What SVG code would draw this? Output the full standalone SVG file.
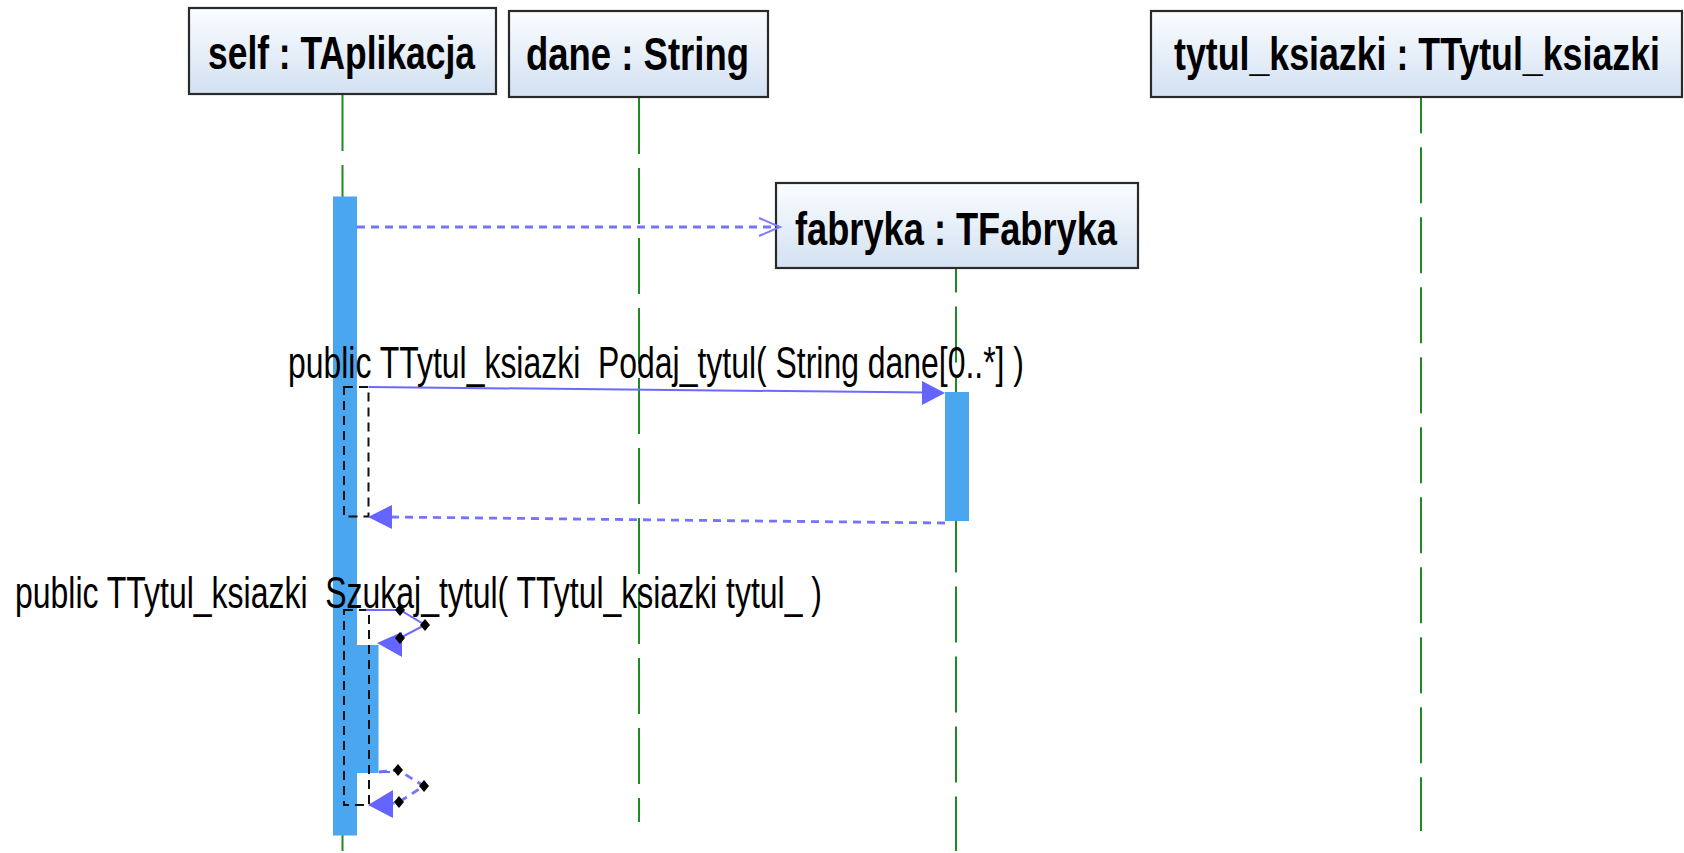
<svg xmlns="http://www.w3.org/2000/svg" width="1684" height="853" viewBox="0 0 1684 853">
  <defs>
    <linearGradient id="boxFill" x1="0" y1="0" x2="0" y2="1">
      <stop offset="0" stop-color="#fbfdff"/>
      <stop offset="1" stop-color="#d3e1f2"/>
    </linearGradient>
    <style>
      .box { fill: url(#boxFill); stroke: #2a2a2a; stroke-width: 2.2; }
      .title { font-family: "Liberation Sans", Arial, sans-serif; font-weight: bold; font-size: 46px; fill: #000; }
      .life { stroke: #1f8a1f; stroke-width: 2; stroke-dasharray: 56 14; fill: none; }
      .act { fill: #4aa6ef; }
      .frame { fill: none; stroke: #111; stroke-width: 2; stroke-dasharray: 9 6; }
      .msg { stroke: #6a6aff; stroke-width: 2; fill: none; }
      .ret { stroke: #7474ff; stroke-width: 2.8; fill: none; stroke-dasharray: 8 6; }
      .head { fill: #6464ff; }
      .label { font-family: "Liberation Sans", Arial, sans-serif; font-size: 44px; fill: #000; white-space: pre; }
      .handle { fill: #000; }
    </style>
  </defs>
  <rect width="1684" height="853" fill="#fff"/>

  <!-- lifelines -->
  <g id="lifelines">
    <line class="life" x1="342.5" y1="95" x2="342.5" y2="853"/>
    <line class="life" x1="639" y1="98" x2="639" y2="822"/>
    <line class="life" x1="956" y1="269" x2="956" y2="851" stroke-dashoffset="32.5"/>
    <line class="life" x1="1421" y1="98" x2="1421" y2="831" stroke-dashoffset="20.7"/>
  </g>

  <!-- object: self -->
  <g id="node-self">
    <rect class="box" x="189" y="8" width="307" height="86"/>
    <text class="title" x="208" y="68.5" textLength="267" lengthAdjust="spacingAndGlyphs">self : TAplikacja</text>
    <rect class="act" x="333" y="196.5" width="24" height="639"/>
  </g>

  <!-- object: dane -->
  <g id="node-dane">
    <rect class="box" x="509" y="11" width="259" height="86"/>
    <text class="title" x="526" y="70" textLength="223" lengthAdjust="spacingAndGlyphs">dane : String</text>
  </g>

  <!-- object: tytul_ksiazki (title squeezed horizontally to fit the header) -->
  <g id="node-tytul">
    <rect class="box" x="1151" y="11" width="531" height="86"/>
    <text class="title" transform="translate(1174,70) scale(0.777,1)" x="0" y="0">tytul_ksiazki : TTytul_ksiazki</text>
  </g>

  <!-- object: fabryka (created) -->
  <g id="node-fabryka">
    <rect class="box" x="776" y="183" width="362" height="85"/>
    <text class="title" x="795" y="245" textLength="322" lengthAdjust="spacingAndGlyphs">fabryka : TFabryka</text>
    <rect class="act" x="945" y="392" width="24" height="129"/>
  </g>

  <!-- nested activation for the self call -->
  <g id="node-self-nested">
    <rect class="act" x="355.5" y="645" width="23" height="128"/>
  </g>

  <!-- connectors -->
  <g id="connectors">
    <!-- create fabryka -->
    <line class="ret" x1="357" y1="227" x2="778" y2="227" stroke="#7a7aff"/>
    <polyline points="759,218 780,227 759,236" fill="none" stroke="#7a7aff" stroke-width="2"/>

    <!-- Podaj_tytul call frame -->
    <path class="frame" d="M344,387 H368.5 V516.5 H344 Z"/>
    <line class="msg" x1="368.5" y1="387" x2="928" y2="392.5"/>
    <polygon class="head" points="945,393 922,381 922,405"/>
    <line class="ret" x1="945" y1="523" x2="390" y2="517"/>
    <polygon class="head" points="368,517 392,505 392,529"/>

    <!-- Szukaj_tytul self call frame -->
    <path class="frame" d="M344,610 H369 V805 H344 Z"/>
    <polyline class="msg" points="366,610 400,610 425,625 400,638 390,641"/>
    <polygon class="head" points="377,643 402,632 402,657"/>
    <polyline class="ret" points="379,772 398,770 424,786 399,802 390,804" stroke-dasharray="5 4" stroke-width="2"/>
    <line x1="379" y1="772" x2="390" y2="772" stroke="#6a6aff" stroke-width="2"/>
    <polygon class="head" points="368,805 393,790 393,818"/>

    <!-- bend handles -->
    <path class="handle" d="M400,604 L405,610 L400,616 L395,610 Z"/>
    <path class="handle" d="M425,619 L430,625 L425,631 L420,625 Z"/>
    <path class="handle" d="M400,632 L405,638 L400,644 L395,638 Z"/>
    <path class="handle" d="M398,764 L403,770 L398,776 L393,770 Z"/>
    <path class="handle" d="M424,780 L429,786 L424,792 L419,786 Z"/>
    <path class="handle" d="M399,796 L404,802 L399,808 L394,802 Z"/>
  </g>

  <!-- message labels -->
  <g id="labels">
    <text class="label" x="288" y="378" textLength="736" lengthAdjust="spacingAndGlyphs" xml:space="preserve">public TTytul_ksiazki  Podaj_tytul( String dane[0..*] )</text>
    <text class="label" x="15" y="608" textLength="807" lengthAdjust="spacingAndGlyphs" xml:space="preserve">public TTytul_ksiazki  Szukaj_tytul( TTytul_ksiazki tytul_ )</text>
  </g>
</svg>
